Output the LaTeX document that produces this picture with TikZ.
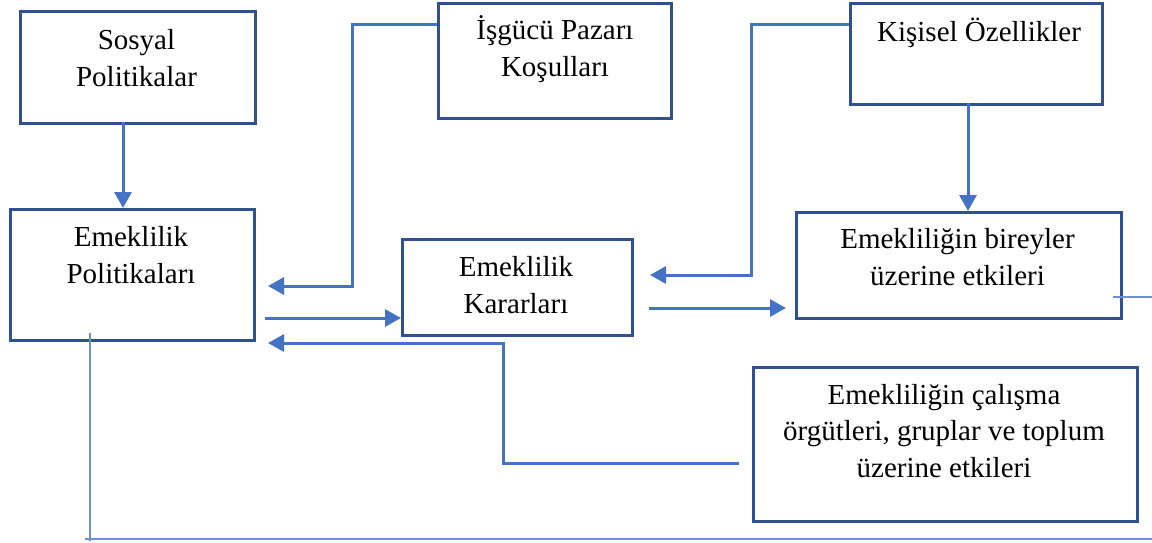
\documentclass[tikz,border=0pt]{standalone}
\usepackage{fontspec}
\setmainfont{Liberation Serif}
\usetikzlibrary{arrows.meta}
\definecolor{boxblue}{HTML}{2F528F}
\definecolor{linkblue}{HTML}{4472C4}
\definecolor{thinblue}{HTML}{6F90D0}
\begin{document}
\begin{tikzpicture}[x=1pt,y=-1pt,
  box/.style={draw=boxblue, line width=3.2pt, fill=white, anchor=north west, inner sep=0pt},
  txt/.style={align=center, anchor=base, inner sep=0pt, font=\fontsize{29}{36.5}\selectfont},
  arr/.style={draw=linkblue, line width=3pt, -{Triangle[length=16pt,width=17pt]}},
  thin/.style={draw=thinblue, line width=1.5pt}]
\useasboundingbox (0,0) rectangle (1152,542);
% boxes
\node[box, minimum width=235pt, minimum height=112pt] (sp) at (19,10) {};
\node[box, minimum width=233pt, minimum height=115pt] (isg) at (437,2) {};
\node[box, minimum width=252pt, minimum height=101pt] (kis) at (849,2) {};
\node[box, minimum width=244pt, minimum height=131pt] (ep) at (9,208) {};
\node[box, minimum width=230pt, minimum height=96pt] (ek) at (401,238) {};
\node[box, minimum width=325pt, minimum height=106pt] (bir) at (795,211) {};
\node[box, minimum width=384pt, minimum height=154pt] (cal) at (752,366) {};
% texts (anchor base = baseline of the last line)
\node[txt] (tsp) at (136.5,86) {Sosyal\\Politikalar};
\node[txt] (tisg) at (555,76) {İşgücü Pazarı\\Koşulları};
\node[txt] (tkis) at (979,41) {Kişisel Özellikler};
\node[txt] (tep) at (131,283) {Emeklilik\\Politikaları};
\node[txt] (tek) at (516,313) {Emeklilik\\Kararları};
\node[txt] (tbir) at (957.5,285) {Emekliliğin bireyler\\üzerine etkileri};
\node[txt] (tcal) at (944,477) {Emekliliğin çalışma\\örgütleri, gruplar ve toplum\\üzerine etkileri};
% connector end points
\coordinate (spOut) at (123,122);
\coordinate (isgOut) at (437,24);
\coordinate (epInA) at (268,286);
\coordinate (kisOut) at (849,24);
\coordinate (ekInA) at (650,275);
\coordinate (kisDown) at (968,103);
\coordinate (epOut) at (265,318);
\coordinate (ekOut) at (649,308);
\coordinate (birIn) at (786,308);
\coordinate (calOut) at (739,463);
\coordinate (epInB) at (268,343);
% connectors
\draw[arr] (spOut) -- (ep.north -| spOut);
\draw[arr] (isgOut) -| (352,286) -- (epInA);
\draw[arr] (kisOut) -| (751,275) -- (ekInA);
\draw[arr] (kisDown) -- (bir.north -| kisDown);
\draw[arr] (epOut) -- (ek.west |- epOut);
\draw[arr] (ekOut) -- (birIn);
\draw[arr] (calOut) -| (503,343) -- (epInB);
% thin lines
\draw[thin] (90,333) -- (90,541);
\draw[thin, line width=2pt] (85,539) -- (1152,539);
\draw[thin] (1113,297) -- (1152,297);
\end{tikzpicture}
\end{document}
